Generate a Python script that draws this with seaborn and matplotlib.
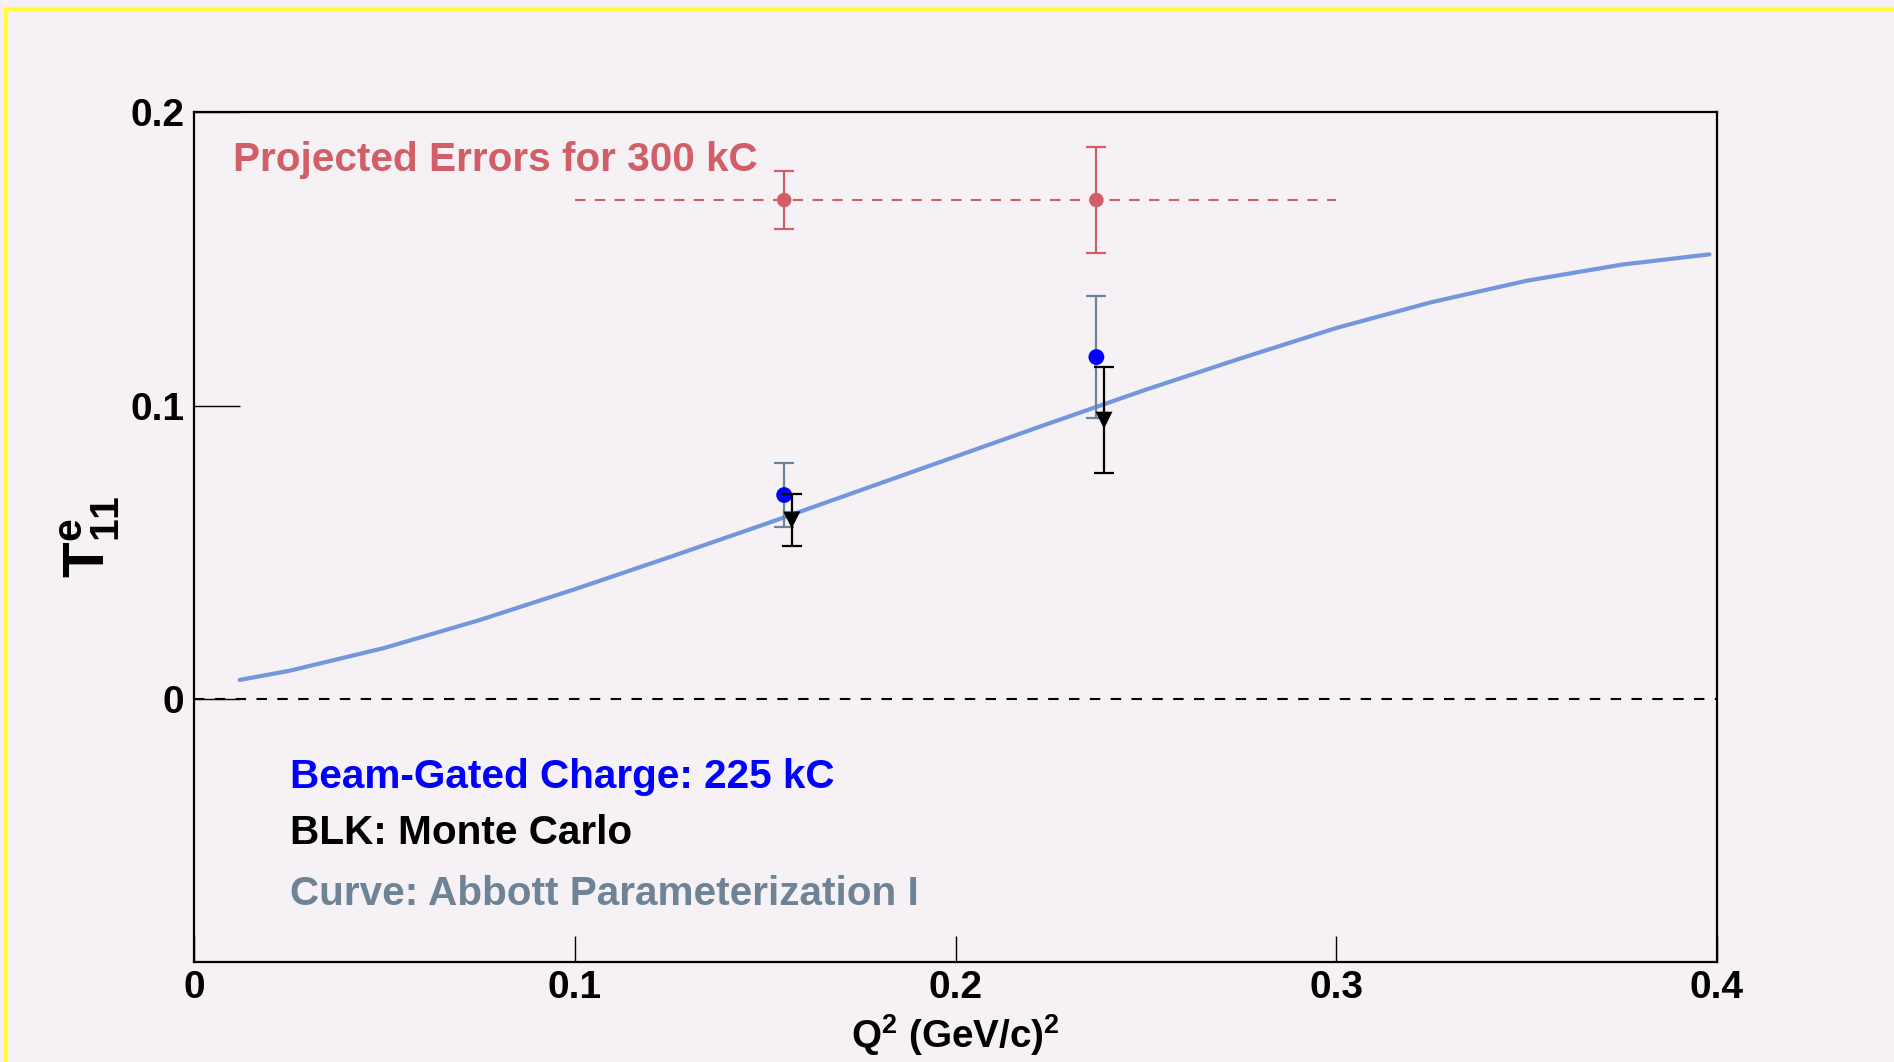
import matplotlib
matplotlib.use("Agg")
import matplotlib.pyplot as plt
from matplotlib.lines import Line2D
import seaborn as sns
import pandas as pd

# Abbott parameterization I curve
q2_curve = [0.012, 0.025, 0.05, 0.075, 0.10, 0.125, 0.15, 0.175, 0.20,
            0.225, 0.25, 0.275, 0.30, 0.325, 0.35, 0.375, 0.398]
t11_curve = [0.0065, 0.0096, 0.0174, 0.0269, 0.0374, 0.0484, 0.0596, 0.0711,
             0.0826, 0.0941, 0.1054, 0.1161, 0.1264, 0.1352, 0.1425, 0.1480,
             0.1515]

# Projected errors for 300 kC
q2_proj = [0.155, 0.237]
t11_proj = [0.17, 0.17]
err_proj = [0.010, 0.018]
proj_span = [0.10, 0.30]

# Beam-gated charge: 225 kC
q2_data = [0.155, 0.237]
t11_data = [0.0695, 0.1165]
err_data = [0.011, 0.0208]

# Monte Carlo
q2_mc = [0.157, 0.239]
t11_mc = [0.061, 0.095]
err_mc = [0.0088, 0.018]

x_ticks = [0, 0.1, 0.2, 0.3, 0.4]
x_ticklabels = ["0", "0.1", "0.2", "0.3", "0.4"]
y_ticks = [0, 0.1, 0.2]
y_ticklabels = ["0", "0.1", "0.2"]

BG = "#F5F1F5"
RED = "#D25F67"
SLATE = "#6F8396"
CURVE = "#7396DC"

sns.set_theme(style="white")
plt.rcParams["font.family"] = ["Liberation Sans", "DejaVu Sans"]
plt.rcParams["font.weight"] = "bold"
plt.rcParams["mathtext.fontset"] = "custom"
plt.rcParams["mathtext.rm"] = "Liberation Sans:bold"
plt.rcParams["mathtext.bf"] = "Liberation Sans:bold"
plt.rcParams["mathtext.it"] = "Liberation Sans:bold"
plt.rcParams["mathtext.default"] = "bf"

fig = plt.figure(figsize=(18.94, 10.62), dpi=100, facecolor=BG)
ax = fig.add_axes([0.10243, 0.09416, 0.80412, 0.80038])
ax.set_facecolor(BG)

curve_df = pd.DataFrame({"q2": q2_curve, "t11": t11_curve})
sns.lineplot(data=curve_df, x="q2", y="t11", ax=ax, color=CURVE, lw=3.0,
             zorder=2, estimator=None, sort=True)

# zero line
ax.plot([x_ticks[0], x_ticks[-1]], [0, 0], color="black", lw=1.5,
        ls=(0, (5, 5)), zorder=1)

# projected errors
ax.plot(proj_span, [t11_proj[0], t11_proj[0]], color=RED, lw=1.5,
        ls=(0, (5, 4.5)), zorder=2)
ax.errorbar(q2_proj, t11_proj, yerr=err_proj, fmt="none", ecolor=RED,
            elinewidth=1.6, capsize=7, capthick=1.6, zorder=3)
sns.scatterplot(x=q2_proj, y=t11_proj, ax=ax, color=RED, s=110,
                edgecolor="none", zorder=4)

# beam-gated data
ax.errorbar(q2_data, t11_data, yerr=err_data, fmt="none", ecolor=SLATE,
            elinewidth=1.6, capsize=7, capthick=1.6, zorder=3)
sns.scatterplot(x=q2_data, y=t11_data, ax=ax, color="#0000FF", s=130,
                edgecolor="none", zorder=5)

# Monte Carlo
ax.errorbar(q2_mc, t11_mc, yerr=err_mc, fmt="none", ecolor="black",
            elinewidth=1.6, capsize=7, capthick=1.6, zorder=5)
sns.scatterplot(x=q2_mc, y=t11_mc, ax=ax, color="black", marker="v", s=150,
                edgecolor="none", zorder=6)

ax.set_xlim(0, 0.4)
ax.set_ylim(-0.0896, 0.2)
ax.set_xticks(x_ticks)
ax.set_xticklabels(x_ticklabels)
ax.set_yticks(y_ticks)
ax.set_yticklabels(y_ticklabels)
ax.tick_params(axis="x", bottom=True, direction="in", length=19, width=1.0,
               color="black", labelsize=28, pad=6, labelcolor="black")
ax.tick_params(axis="y", left=True, direction="in", length=33, width=1.0,
               color="black", labelsize=28, pad=7, labelcolor="black")
for lab in ax.get_xticklabels() + ax.get_yticklabels():
    lab.set_fontweight("bold")
for s in ax.spines.values():
    s.set_color("black")
    s.set_linewidth(1.6)

ax.set_xlabel(r"Q$^{2}$ (GeV/c)$^{2}$", fontsize=27.8, fontweight="bold",
              color="black", labelpad=4)
ax.set_ylabel(r"$\mathbf{T}^{\mathbf{e}}_{\mathbf{11}}$", fontsize=42,
              color="black")
ax.yaxis.label.set_rotation_mode("default")
ax.yaxis.label.set_va("center")
ax.yaxis.label.set_ha("center")
ax.yaxis.set_label_coords(-0.0676, 0.5)

ax.text(0.0102, 0.1835, "Projected Errors for 300 kC", color=RED,
        fontsize=29.2, fontweight="bold", ha="left", va="center")
ax.text(0.0252, -0.0264, "Beam-Gated Charge: 225 kC", color="#0000FF",
        fontsize=29.2, fontweight="bold", ha="left", va="center")
ax.text(0.0252, -0.0458, "BLK: Monte Carlo", color="black",
        fontsize=29.2, fontweight="bold", ha="left", va="center")
ax.text(0.0252, -0.0663, "Curve: Abbott Parameterization I", color=SLATE,
        fontsize=29.2, fontweight="bold", ha="left", va="center")

# yellow page frame along the top and left edges
W, H = 1894, 1062
fig.add_artist(Line2D([6 / W, 1.0], [1 - 9 / H, 1 - 9 / H], color="#FFFF33",
                      lw=3.0, transform=fig.transFigure))
fig.add_artist(Line2D([6 / W, 6 / W], [0.0, 1 - 9 / H], color="#FFFF33",
                      lw=3.0, transform=fig.transFigure))

fig.savefig("out.png", dpi=100, facecolor=BG)
